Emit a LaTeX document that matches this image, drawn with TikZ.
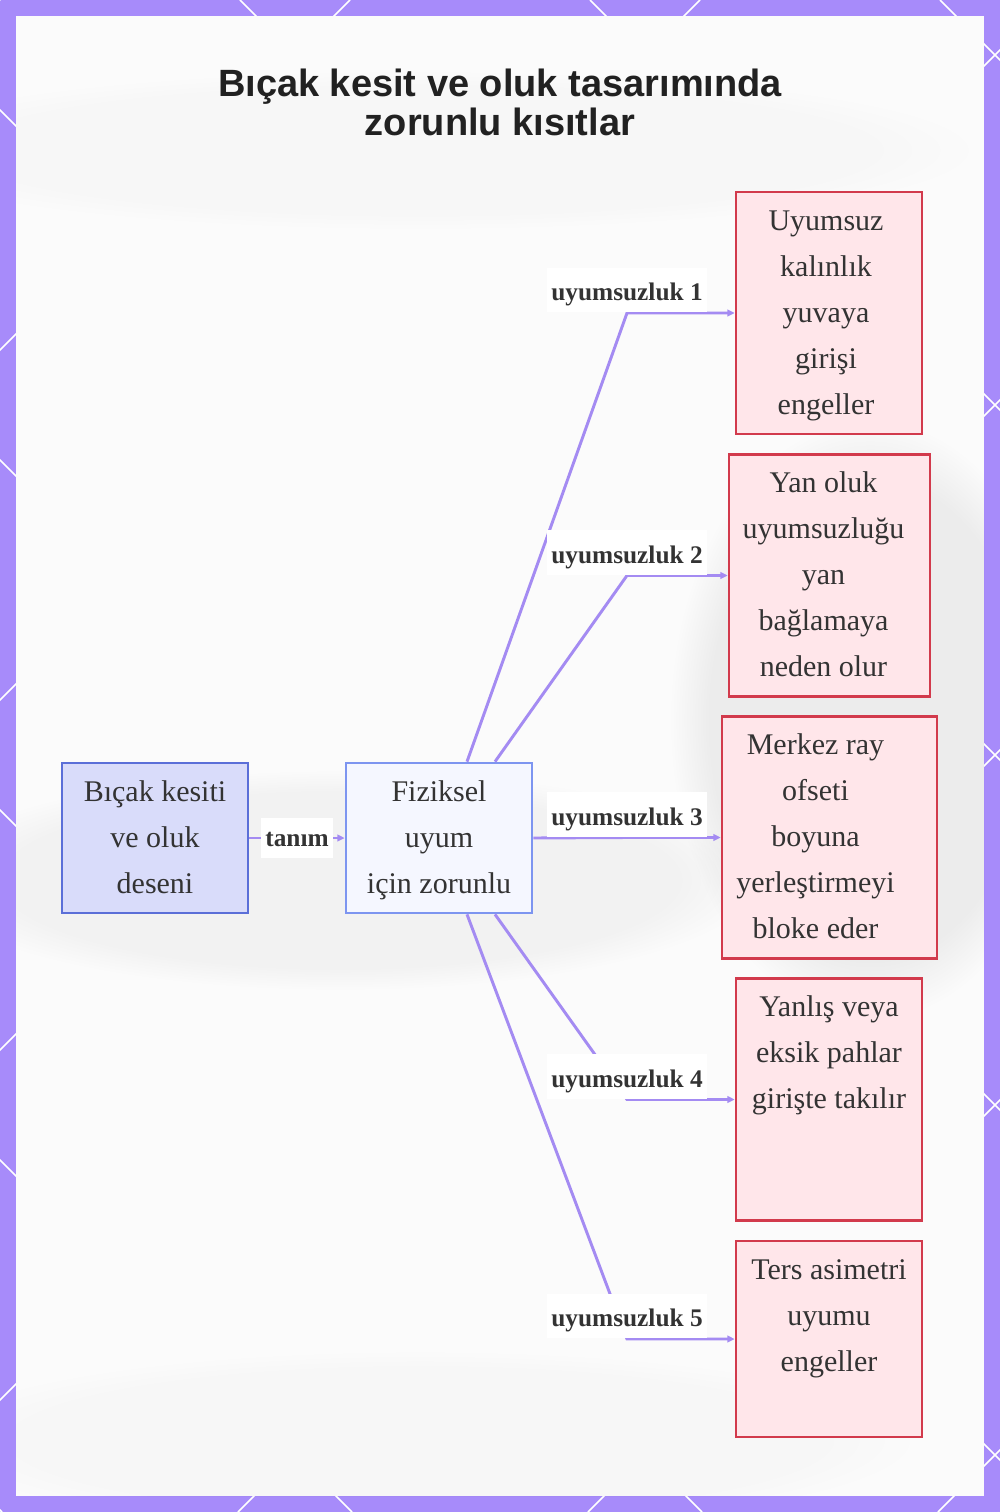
\documentclass[tikz,border=0pt]{standalone}
\usepackage{fontspec}
\setmainfont{Liberation Serif}
\newfontfamily\titlefont{Liberation Sans}
\usetikzlibrary{arrows.meta,fadings}
\definecolor{framecol}{HTML}{A78BFA}
\definecolor{edgecol}{HTML}{A48BF2}
\definecolor{srcfill}{HTML}{D9DCFA}
\definecolor{srcdraw}{HTML}{5B6FD8}
\definecolor{midfill}{HTML}{F5F7FF}
\definecolor{middraw}{HTML}{7D95F0}
\definecolor{redfill}{HTML}{FFE6EA}
\definecolor{reddraw}{HTML}{D23A4C}
\definecolor{txt}{HTML}{333333}
\definecolor{bgcol}{HTML}{FBFBFB}
\newcommand\mypad[1]{\strut\kern#1}
\tikzset{
  boxbase/.style={draw, line width=2pt, align=center, text=txt,
    font=\fontsize{22.5}{34.5}\selectfont, inner xsep=0pt, inner ysep=4.5pt},
  srcbox/.style={boxbase, fill=srcfill, draw=srcdraw},
  midbox/.style={boxbase, fill=midfill, draw=middraw},
  redbox/.style={boxbase, fill=redfill, draw=reddraw},
  edge/.style={draw=edgecol, line width=2.2pt, -{Triangle[length=5.5pt,width=5pt]}},
  lblbase/.style={fill=white, text=txt, font=\fontsize{19}{23}\selectfont\bfseries,
    inner xsep=3.5pt, inner ysep=3pt, text height=19pt, text depth=5.6pt},
  lbl/.style={lblbase, text height=22pt, yshift=17.3pt},
  blob/.style={fill=black, path fading=circle with fuzzy edge 20 percent},
}
\begin{document}
\begin{tikzpicture}[x=0.75pt,y=-0.75pt]
\useasboundingbox (0,0) rectangle (1000,1512);
% frame
\fill[framecol] (0,0) rectangle (1000,1512);
\begin{scope}
\clip (0,0) rectangle (1000,1512);
\foreach \k in {-5,...,2} {
  \draw[white, line width=1.1pt] ({240+350*\k},0) -- ({240+350*\k+1512},1512);
}
\foreach \k in {0,...,7} {
  \draw[white, line width=1.1pt] ({350*\k},0) -- ({350*\k-1512},1512);
}
\end{scope}
\fill[bgcol] (16,16) rectangle (984,1496);
% faint blurred background hints
\begin{scope}
\clip (16,16) rectangle (984,1496);
\fill[blob, opacity=0.06] (870,720) ellipse (200 and 300);
\fill[blob, opacity=0.035] (340,880) ellipse (420 and 110);
\fill[blob, opacity=0.015] (420,1440) ellipse (500 and 90);
\fill[blob, opacity=0.015] (420,150) ellipse (560 and 80);
\end{scope}

% title
\node[font=\titlefont\fontsize{28.5}{29.25}\selectfont\bfseries, text=black!87, align=center]
  (title) at (500,102) {Bıçak kesit ve oluk tasarımında\\zorunlu kısıtlar};

% nodes
\node[srcbox, minimum width=139.5pt] (A) at (155,838)
  {Bıçak kesiti\strut\\ve oluk\strut\\deseni\strut};
\node[midbox, minimum width=139.5pt] (B) at (439,838)
  {Fiziksel\strut\\uyum\strut\\için zorunlu\strut};
\node[redbox, minimum width=139.5pt] (r1) at (829,313)
  {Uyumsuz\mypad{4.5pt}\\kalınlık\mypad{4.5pt}\\yuvaya\mypad{4.5pt}\\girişi\mypad{4.5pt}\\engeller\mypad{4.5pt}};
\node[redbox, minimum width=150.75pt] (r2) at (829.5,575.5)
  {Yan oluk\mypad{9pt}\\uyumsuzluğu\mypad{9pt}\\yan\mypad{9pt}\\bağlamaya\mypad{9pt}\\neden olur\mypad{9pt}};
\node[redbox, minimum width=161.25pt] (r3) at (829.5,837.5)
  {Merkez ray\mypad{21pt}\\ofseti\mypad{21pt}\\boyuna\mypad{21pt}\\yerleştirmeyi\mypad{21pt}\\bloke eder\mypad{21pt}};
\node[redbox, minimum width=139.5pt] (r4) at (829,1099.5)
  {Yanlış veya\strut\\eksik pahlar\strut\\girişte takılır\strut\\\strut\\\strut};
\node[redbox, minimum width=139.5pt] (r5) at (829,1339)
  {Ters asimetri\strut\\uyumu\strut\\engeller\strut\\\strut};

\coordinate (cx) at (627,0);

% edges
\draw[edge] (A.east) -- node[lblbase] (l0) {tanım} (B.west);
\draw[edge] ([xshift=21pt]B.north) -- (cx |- r1.west)
  node[lbl] (l1) {uyumsuzluk 1} -- (r1.west);
\draw[edge] ([xshift=42pt]B.north) -- (cx |- r2.west)
  node[lbl] (l2) {uyumsuzluk 2} -- (r2.west);
\draw[edge] (B.east) -- (cx |- r3.west)
  node[lbl] (l3) {uyumsuzluk 3} -- (r3.west);
\draw[edge] ([xshift=42pt]B.south) -- (cx |- r4.west)
  node[lbl] (l4) {uyumsuzluk 4} -- (r4.west);
\draw[edge] ([xshift=21pt]B.south) -- (cx |- r5.west)
  node[lbl] (l5) {uyumsuzluk 5} -- (r5.west);
\end{tikzpicture}
\end{document}
